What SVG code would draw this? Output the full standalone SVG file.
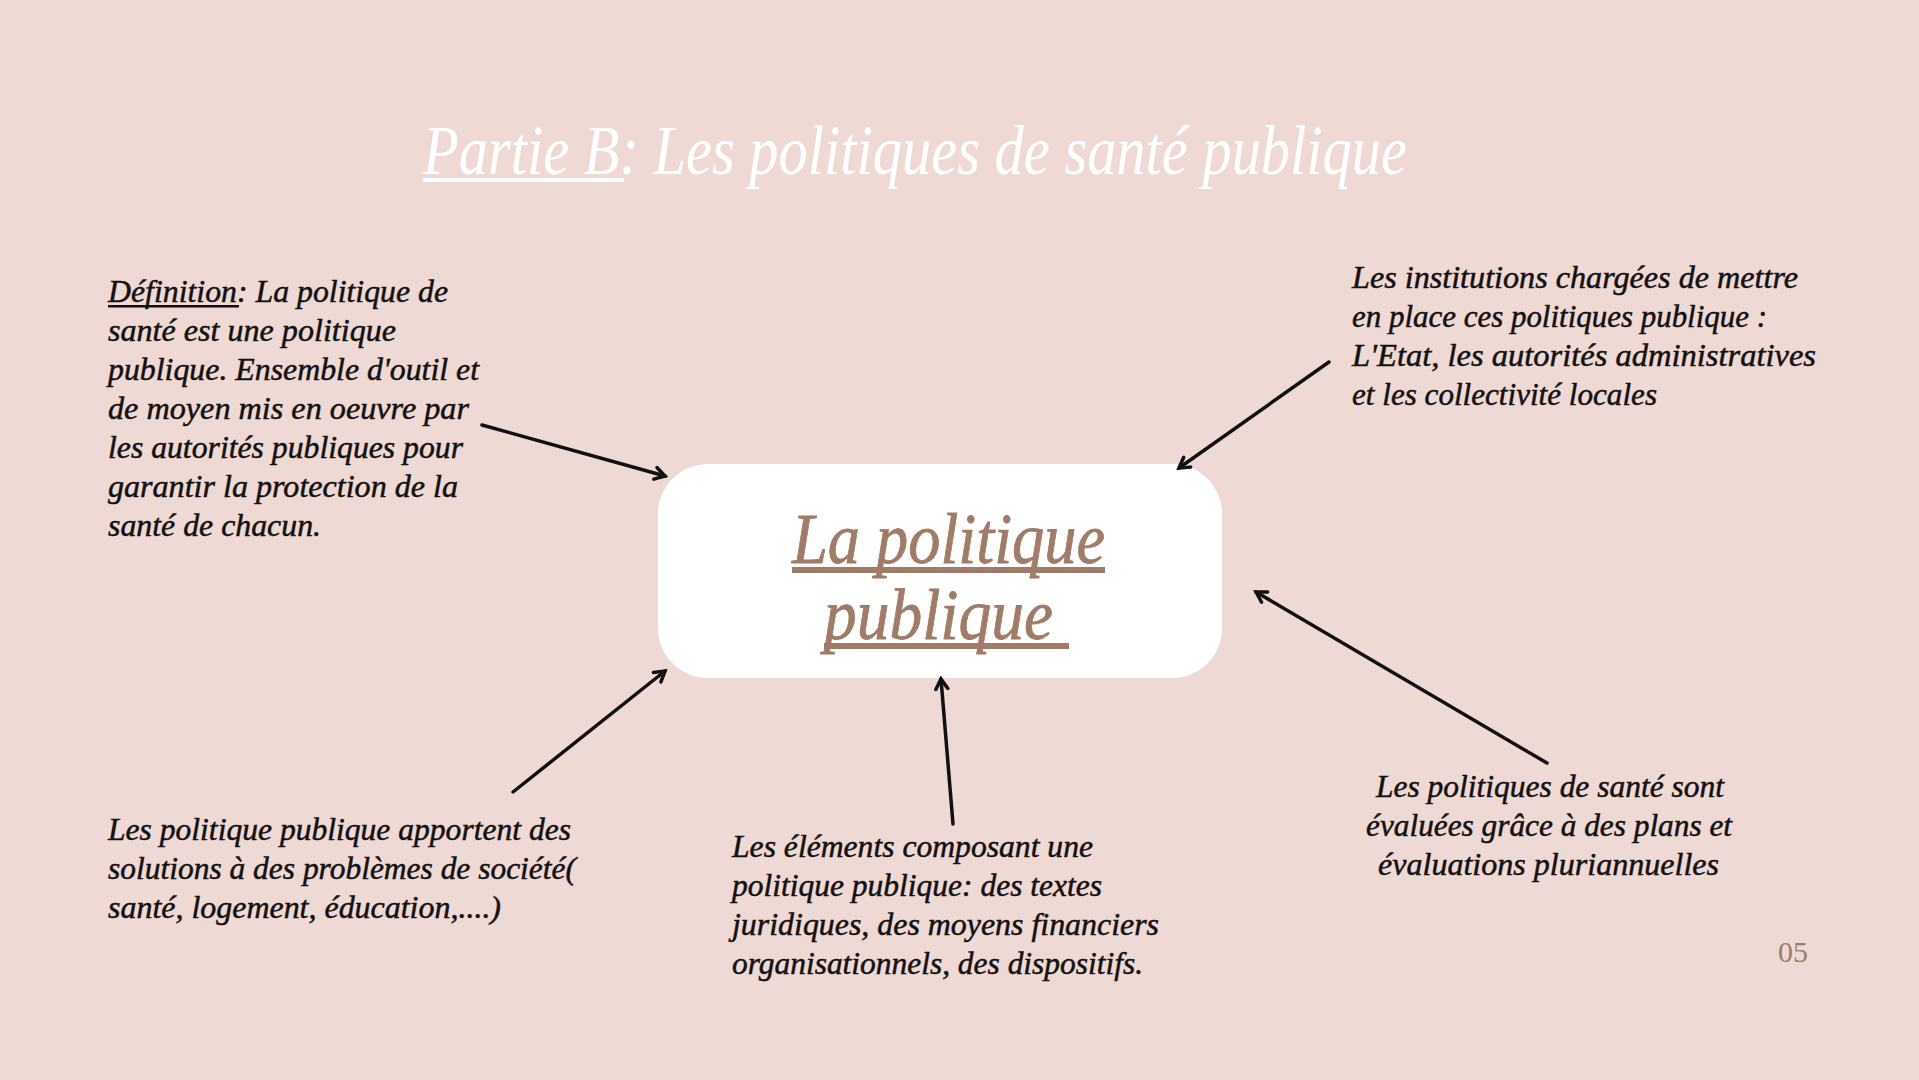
<svg xmlns="http://www.w3.org/2000/svg" width="1919" height="1080" viewBox="0 0 1919 1080">
<defs>
<style>
.t{font-family:"Liberation Serif","Times New Roman",serif;font-style:italic;fill:#141010;stroke:#141010;stroke-width:0.5;font-size:32px}
.title{font-family:"Liberation Serif","Times New Roman",serif;font-style:italic;fill:#ffffff;font-size:70px}
.center{font-family:"Liberation Serif","Times New Roman",serif;font-style:italic;fill:#a07b68;stroke:#a07b68;stroke-width:0.8;font-size:72px}
.conn{stroke:#111;stroke-width:3.5;fill:none;stroke-linecap:round}
</style>
<marker id="ah" viewBox="0 0 16 16" refX="13" refY="8" markerWidth="16" markerHeight="16" markerUnits="userSpaceOnUse" orient="auto">
<path d="M3,2 L13,8 L3,14" fill="none" stroke="#111" stroke-width="3.5" stroke-linecap="round" stroke-linejoin="miter"/>
</marker>
</defs>
<rect x="0" y="0" width="1919" height="1080" fill="#efd9d5"/>

<g id="title">
<text class="title" x="423" y="174" textLength="984" lengthAdjust="spacingAndGlyphs">Partie B: Les politiques de santé publique</text>
<rect x="423" y="178" width="201" height="4" fill="#ffffff"/>
</g>

<g id="center-node">
<rect x="658" y="464" width="564" height="214" rx="50" ry="50" fill="#ffffff"/>
<text class="center" x="792" y="563" textLength="313" lengthAdjust="spacingAndGlyphs">La politique</text>
<rect x="792" y="567" width="313" height="6" fill="#a07b68"/>
<text class="center" x="824" y="639" textLength="229" lengthAdjust="spacingAndGlyphs">publique</text>
<rect x="824" y="643" width="245" height="6" fill="#a07b68"/>
</g>

<g id="definition">
<text class="t" x="108" y="302" textLength="340" lengthAdjust="spacingAndGlyphs">Définition: La politique de</text>
<rect x="108" y="305" width="131" height="2.5" fill="#141010"/>
<text class="t" x="108" y="341" textLength="288" lengthAdjust="spacingAndGlyphs">santé est une politique</text>
<text class="t" x="108" y="380" textLength="371" lengthAdjust="spacingAndGlyphs">publique. Ensemble d'outil et</text>
<text class="t" x="108" y="419" textLength="361" lengthAdjust="spacingAndGlyphs">de moyen mis en oeuvre par</text>
<text class="t" x="108" y="458" textLength="355" lengthAdjust="spacingAndGlyphs">les autorités publiques pour</text>
<text class="t" x="108" y="497" textLength="350" lengthAdjust="spacingAndGlyphs">garantir la protection de la</text>
<text class="t" x="108" y="536" textLength="213" lengthAdjust="spacingAndGlyphs">santé de chacun.</text>
</g>

<g id="institutions">
<text class="t" x="1352" y="288" textLength="446" lengthAdjust="spacingAndGlyphs">Les institutions chargées de mettre</text>
<text class="t" x="1352" y="327" textLength="415" lengthAdjust="spacingAndGlyphs">en place ces politiques publique :</text>
<text class="t" x="1352" y="366" textLength="464" lengthAdjust="spacingAndGlyphs">L'Etat, les autorités administratives</text>
<text class="t" x="1352" y="405" textLength="305" lengthAdjust="spacingAndGlyphs">et les collectivité locales</text>
</g>

<g id="solutions">
<text class="t" x="108" y="840" textLength="463" lengthAdjust="spacingAndGlyphs">Les politique publique apportent des</text>
<text class="t" x="108" y="879" textLength="468" lengthAdjust="spacingAndGlyphs">solutions à des problèmes de société(</text>
<text class="t" x="108" y="918" textLength="393" lengthAdjust="spacingAndGlyphs">santé, logement, éducation,....)</text>
</g>

<g id="elements">
<text class="t" x="732" y="857" textLength="361" lengthAdjust="spacingAndGlyphs">Les éléments composant une</text>
<text class="t" x="732" y="896" textLength="370" lengthAdjust="spacingAndGlyphs">politique publique: des textes</text>
<text class="t" x="732" y="935" textLength="427" lengthAdjust="spacingAndGlyphs">juridiques, des moyens financiers</text>
<text class="t" x="732" y="974" textLength="411" lengthAdjust="spacingAndGlyphs">organisationnels, des dispositifs.</text>
</g>

<g id="evaluation">
<text class="t" x="1376" y="797" textLength="348" lengthAdjust="spacingAndGlyphs">Les politiques de santé sont</text>
<text class="t" x="1366" y="836" textLength="366" lengthAdjust="spacingAndGlyphs">évaluées grâce à des plans et</text>
<text class="t" x="1378" y="875" textLength="341" lengthAdjust="spacingAndGlyphs">évaluations pluriannuelles</text>
</g>

<g id="connectors">
<line class="conn" x1="482" y1="425" x2="665" y2="476" marker-end="url(#ah)"/>
<line class="conn" x1="1329" y1="362" x2="1179" y2="468" marker-end="url(#ah)"/>
<line class="conn" x1="513" y1="792" x2="665" y2="671" marker-end="url(#ah)"/>
<line class="conn" x1="953" y1="824" x2="941" y2="679" marker-end="url(#ah)"/>
<line class="conn" x1="1547" y1="763" x2="1256" y2="592" marker-end="url(#ah)"/>
</g>

<g id="page-number">
<text x="1778" y="962" font-family="Liberation Serif, serif" font-size="30" fill="#9c7d70">05</text>
</g>
</svg>
